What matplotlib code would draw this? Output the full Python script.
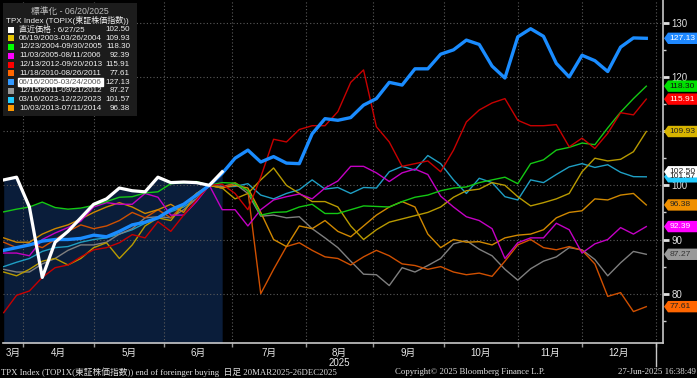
import matplotlib.pyplot as plt
import matplotlib.transforms as mtransforms
from matplotlib.patches import Polygon, Rectangle
import numpy as np
import pandas as pd

plt.rcParams['font.family'] = ['Liberation Sans', 'Noto Sans CJK JP']

W, H = 697, 378

# trading-day index (0 = 20 Mar 2025), one sample every 4 sessions
days = np.arange(2, 203, 4)
recent_days = days[:18]

# normalised to 100 on 06/20/2025
recent = [101.0, 101.5, 96.0, 83.0, 89.5, 91.5, 94.0, 96.5, 97.5, 99.5, 99.0, 98.8,
          101.5, 100.5, 100.6, 100.5, 100.0, 102.5]

s2003 = [84.0, 83.3, 84.5, 86.0, 86.5, 85.3, 86.5, 88.5, 89.4, 86.5, 89.0, 92.5, 94.0,
         93.5, 96.4, 98.5, 100.0,
         99.5, 97.5, 98.5, 101.0, 103.2, 100.0, 98.5, 97.0, 97.0, 96.0, 92.5, 90.0, 91.8,
         93.2, 93.8, 94.4, 95.0, 96.0, 97.8, 99.0, 99.3, 100.5, 100.0, 97.9, 96.2, 96.8,
         97.5, 98.5, 102.5, 105.0, 104.5, 104.8, 106.2, 109.93]
s2004 = [95.1, 95.6, 96.0, 96.9, 95.9, 95.6, 95.8, 96.3, 97.0, 97.8, 97.9, 98.6, 98.8,
         100.3, 100.5, 100.7, 100.0,
         100.5, 100.4, 99.0, 94.5, 95.0, 95.1, 96.0, 96.5, 94.8, 94.8, 95.5, 96.2, 96.1,
         96.0, 97.0, 97.8, 98.2, 99.0, 99.5, 99.7, 100.5, 101.0, 101.5, 100.3, 104.0,
         104.7, 106.5, 107.0, 107.8, 107.5, 110.6, 113.5, 116.0, 118.3]
s2005a = [87.5, 87.5, 87.0, 90.0, 91.2, 92.2, 93.4, 96.0, 96.8, 96.5, 96.5, 98.5, 97.8,
          94.5, 94.5, 97.0, 100.0,
          95.5, 95.5, 92.5, 95.5, 97.3, 97.9, 98.4, 97.5, 99.5, 100.8, 103.5, 103.5, 102.3,
          100.7, 102.3, 103.0, 102.0, 98.0, 96.0, 94.2, 93.5, 92.0, 86.5, 89.4, 90.3,
          90.3, 93.0, 91.8, 87.5, 89.2, 90.0, 92.2, 91.0, 92.39]
s2012 = [76.5, 79.7, 80.5, 83.0, 84.8, 85.3, 86.8, 88.1, 88.5, 89.4, 90.9, 90.3, 93.3,
         91.5, 94.5, 97.3, 100.0,
         100.2, 98.5, 95.5, 101.5, 108.5, 108.0, 110.3, 111.0, 111.0, 113.6, 119.0, 121.3,
         110.8, 108.0, 103.5, 104.0, 104.5, 102.5, 106.5, 111.7, 113.9, 115.2, 116.0,
         112.0, 111.0, 111.0, 111.2, 107.1, 108.7, 106.8, 109.6, 113.4, 113.0, 115.91]
s2010 = [89.5, 88.5, 89.3, 88.5, 90.0, 91.5, 92.7, 92.0, 92.5, 93.5, 95.0, 94.0, 95.5,
         94.0, 96.5, 98.0, 100.0,
         99.5, 100.5, 99.0, 80.0, 84.5, 88.7, 89.4, 88.0, 86.8, 86.5, 85.3, 86.8, 88.0,
         87.0, 85.5, 85.2, 84.5, 85.0, 84.0, 83.5, 83.8, 83.2, 86.0, 89.0, 90.0, 88.5,
         88.1, 88.7, 88.0, 85.5, 79.5, 80.2, 76.7, 77.61]
s2005b = [88.0, 88.5, 89.0, 89.7, 90.0, 90.0, 90.2, 90.8, 90.5, 91.5, 92.7, 93.2, 94.0,
          95.5, 96.5, 98.2, 100.0,
          102.2, 105.0, 106.5, 104.3, 105.3, 104.1, 104.0, 109.5, 112.3, 112.0, 112.5,
          114.8, 116.0, 119.0, 118.5, 121.5, 121.5, 124.2, 125.0, 126.8, 126.0, 122.0,
          119.8, 127.4, 128.9, 127.5, 122.5, 120.0, 124.0, 123.0, 121.0, 125.5, 127.2,
          127.13]
s2011 = [84.5, 84.0, 84.0, 85.5, 86.5, 88.0, 89.0, 89.0, 89.5, 91.0, 92.0, 94.0, 94.2,
         94.0, 95.5, 97.5, 100.0,
         99.8, 100.3, 98.5, 94.3, 94.5, 94.0, 94.2, 92.0, 90.3, 88.5, 86.0, 83.6, 83.5,
         81.5, 84.8, 84.0, 85.2, 86.5, 89.2, 89.8, 88.2, 87.0, 84.5, 82.5, 84.6, 86.0,
         86.8, 88.5, 88.1, 86.3, 83.3, 85.7, 87.8, 87.27]
s2023 = [85.0, 85.8, 86.5, 87.8, 88.5, 88.7, 89.5, 90.0, 90.3, 91.0, 91.8, 93.0, 94.0,
         95.1, 96.0, 97.5, 100.0,
         99.7, 99.8, 100.3, 98.2, 97.5, 98.5, 99.2, 101.0, 99.3, 99.6, 98.5, 99.6, 99.5,
         102.5, 103.5, 102.8, 105.5, 104.0, 101.0, 98.5, 101.3, 100.5, 97.9, 97.3, 101.0,
         100.5, 102.0, 103.4, 104.0, 103.3, 103.8, 102.4, 101.6, 101.57]
s2013 = [90.3, 89.5, 89.5, 91.0, 92.0, 92.7, 93.8, 95.0, 96.0, 96.8, 96.0, 94.8, 95.5,
         96.5, 95.0, 98.5, 100.0,
         99.5, 100.0, 99.5, 95.0, 90.0, 88.7, 92.5, 92.0, 93.5, 91.5, 90.5, 92.5, 94.5,
         96.0, 97.0, 96.0, 91.0, 88.5, 90.0, 89.5, 89.6, 89.0, 90.3, 90.8, 91.0, 91.8,
         94.0, 95.0, 95.3, 97.5, 97.3, 98.2, 98.5, 96.38]

legend_labels = ['直近価格 : 6/27/25', '06/19/2003-03/26/2004', '12/23/2004-09/30/2005',
                 '11/03/2005-08/11/2006', '12/13/2012-09/20/2013', '11/18/2010-08/26/2011',
                 '06/16/2005-03/24/2006', '12/15/2011-09/21/2012', '03/16/2023-12/22/2023',
                 '10/03/2013-07/11/2014']
last_values = [102.50, 109.93, 118.30, 92.39, 115.91, 77.61, 127.13, 87.27, 101.57, 96.38]
swatch_colors = ['#ffffff', '#e6c400', '#00ff00', '#ff00ff', '#ff0000', '#ff6600',
                 '#3399ff', '#999999', '#22ccff', '#ff9900']
line_colors = ['#ffffff', '#b89a00', '#14c814', '#c400c4', '#c80000', '#d05000',
               '#1a8cff', '#7f7f7f', '#1f9fc4', '#d08800']
tag_colors = ['#ffffff', '#d8b400', '#00e000', '#ff00ff', '#ff0000', '#ff6600',
              '#1e88ff', '#9a9a9a', '#22ccff', '#f09000']
tag_text = ['#222222', '#222222', '#111111', '#ffffff', '#ffffff', '#222222',
            '#ffffff', '#333333', '#222222', '#222222']

series = [recent, s2003, s2004, s2005a, s2012, s2010, s2005b, s2011, s2023, s2013]

y_ticks = [80, 90, 100, 110, 120, 130]
y_ticklabels = ['80', '90', '100', '', '120', '130']   # 110 sits under the 109.93 tag

# month boundaries on the trading-day axis
bdays = pd.bdate_range('2025-03-20', '2025-12-31')
month_starts = [i for i in range(1, len(bdays)) if bdays[i].month != bdays[i - 1].month]
month_starts.append(len(bdays))
month_names = ['3月', '4月', '5月', '6月', '7月', '8月', '9月', '10月', '11月', '12月']

x0, x1 = 1.78, 207.2
y0, y1 = 70.9, 134.2

fig = plt.figure(figsize=(W / 100, H / 100), dpi=100, facecolor='black')
ax = fig.add_axes([3 / W, 35 / H, 660 / W, 343 / H])
ax.set_facecolor('black')
ax.set_xlim(x0, x1)
ax.set_ylim(y0, y1)

# shaded area under the current path (Bloomberg keeps it at the other paths' level in the March dip)
shade_top = np.maximum(recent, s2004[:len(recent)])
ax.fill_between(recent_days, y0, shade_top, color='#0a1d3a', zorder=0.5, lw=0)

ax.grid(True, color='#5a5a5a', linestyle=(0, (1, 2)), linewidth=0.8)
ax.set_axisbelow(True)

order = [8, 7, 5, 9, 1, 3, 2, 4]
for i in order:
    ax.plot(days, series[i], color=line_colors[i], lw=1.0, zorder=2)
ax.plot(days, series[6], color=line_colors[6], lw=2.4, zorder=3)
ax.plot(recent_days, series[0], color=line_colors[0], lw=2.3, zorder=4)

for s in ['left', 'top']:
    ax.spines[s].set_visible(False)
for s in ['bottom', 'right']:
    ax.spines[s].set_color('#c8c8c8')
    ax.spines[s].set_linewidth(1.2)

ax.yaxis.tick_right()
ax.set_yticks(y_ticks)
ax.set_yticklabels(y_ticklabels)
ax.set_yticks(np.arange(75, 134, 5), minor=True)
ax.tick_params(axis='y', which='major', direction='out', length=4, width=2,
               colors='#e0e0e0', labelsize=7, pad=2)
ax.tick_params(axis='y', which='minor', direction='out', length=2, width=1, colors='#cccccc')
ax.set_xticks(month_starts)
ax.set_xticklabels([])
ax.tick_params(axis='x', direction='out', length=3, width=1, colors='#9a9a9a')

bt = mtransforms.blended_transform_factory(ax.transData, ax.transAxes)
edges = [x0] + month_starts
for k, name in enumerate(month_names):
    xc = (edges[k] + edges[k + 1]) / 2
    ax.text(xc, -0.028, name, transform=bt, ha='center', va='center',
            color='#e8e8e8', fontsize=7)
ax.text((edges[5] + edges[6]) / 2, -0.058, '2025', transform=bt, ha='center',
        va='center', color='#e8e8e8', fontsize=7)
ax.plot([month_starts[-1]] * 2, [0, -0.068], transform=bt, color='#c8c8c8', lw=1,
        clip_on=False)

# value tags on the right axis
tt = mtransforms.blended_transform_factory(fig.transFigure, ax.transData)
hh = 1.05
for i in [1, 2, 4, 6, 8, 0, 9, 3, 7, 5]:
    v = last_values[i]
    poly = Polygon([(664 / W, v), (668 / W, v + hh), (1.0, v + hh), (1.0, v - hh),
                    (668 / W, v - hh)], closed=True, transform=tt, facecolor=tag_colors[i],
                   edgecolor='none', clip_on=False, zorder=6)
    ax.add_patch(poly)
    ax.text(669.5 / W, v, f'{v:.2f}', transform=tt, ha='left', va='center',
            color=tag_text[i], fontsize=6.1, clip_on=False, zorder=7)

# legend panel
def fx(px):
    return px / W


def fy(py):
    return 1 - py / H


fig.patches.append(Rectangle((fx(3), fy(116)), fx(137) - fx(3), fy(3) - fy(116),
                             transform=fig.transFigure, facecolor='#1c1c1c',
                             edgecolor='none', zorder=5))
fig.text(fx(70), fy(11), '標準化 - 06/20/2025', ha='center', va='center',
         color='#bdbdbd', fontsize=6.3, zorder=6)
fig.text(fx(6), fy(20), 'TPX Index (TOPIX(東証株価指数))', ha='left', va='center',
         color='#f0f0f0', fontsize=5.8, zorder=6)
for k, lab in enumerate(legend_labels):
    yc = 29.5 + k * 8.75
    fig.patches.append(Rectangle((fx(8), fy(yc + 3)), fx(6), fy(0) - fy(6),
                                 transform=fig.transFigure, facecolor=swatch_colors[k],
                                 edgecolor='none', zorder=6))
    if k == 6:
        fig.text(fx(19), fy(yc), lab, ha='left', va='center', color='#555555',
                 fontsize=5.8, zorder=7,
                 bbox=dict(boxstyle='square,pad=0.12', facecolor='white', edgecolor='white'))
    else:
        fig.text(fx(19), fy(yc), lab, ha='left', va='center', color='#f0f0f0',
                 fontsize=5.8, zorder=7)
    fig.text(fx(130), fy(yc), f'{last_values[k]:.2f}', ha='right', va='center',
             color='#f0f0f0', fontsize=5.8, zorder=7)

foot = ['Liberation Serif', 'Noto Sans CJK JP']
fig.text(fx(1), fy(372), 'TPX Index (TOP1X(東証株価指数)) end of foreinger buying  日足 20MAR2025-26DEC2025',
         ha='left', va='center', color='#e0e0e0', fontsize=6.3, family=foot)
fig.text(fx(395), fy(372), 'Copyright© 2025 Bloomberg Finance L.P.', ha='left',
         va='center', color='#e0e0e0', fontsize=6.3, family=foot)
fig.text(fx(696), fy(372), '27-Jun-2025 16:38:49', ha='right', va='center',
         color='#e0e0e0', fontsize=6.3, family=foot)

fig.savefig('out.png', dpi=100, facecolor='black')
